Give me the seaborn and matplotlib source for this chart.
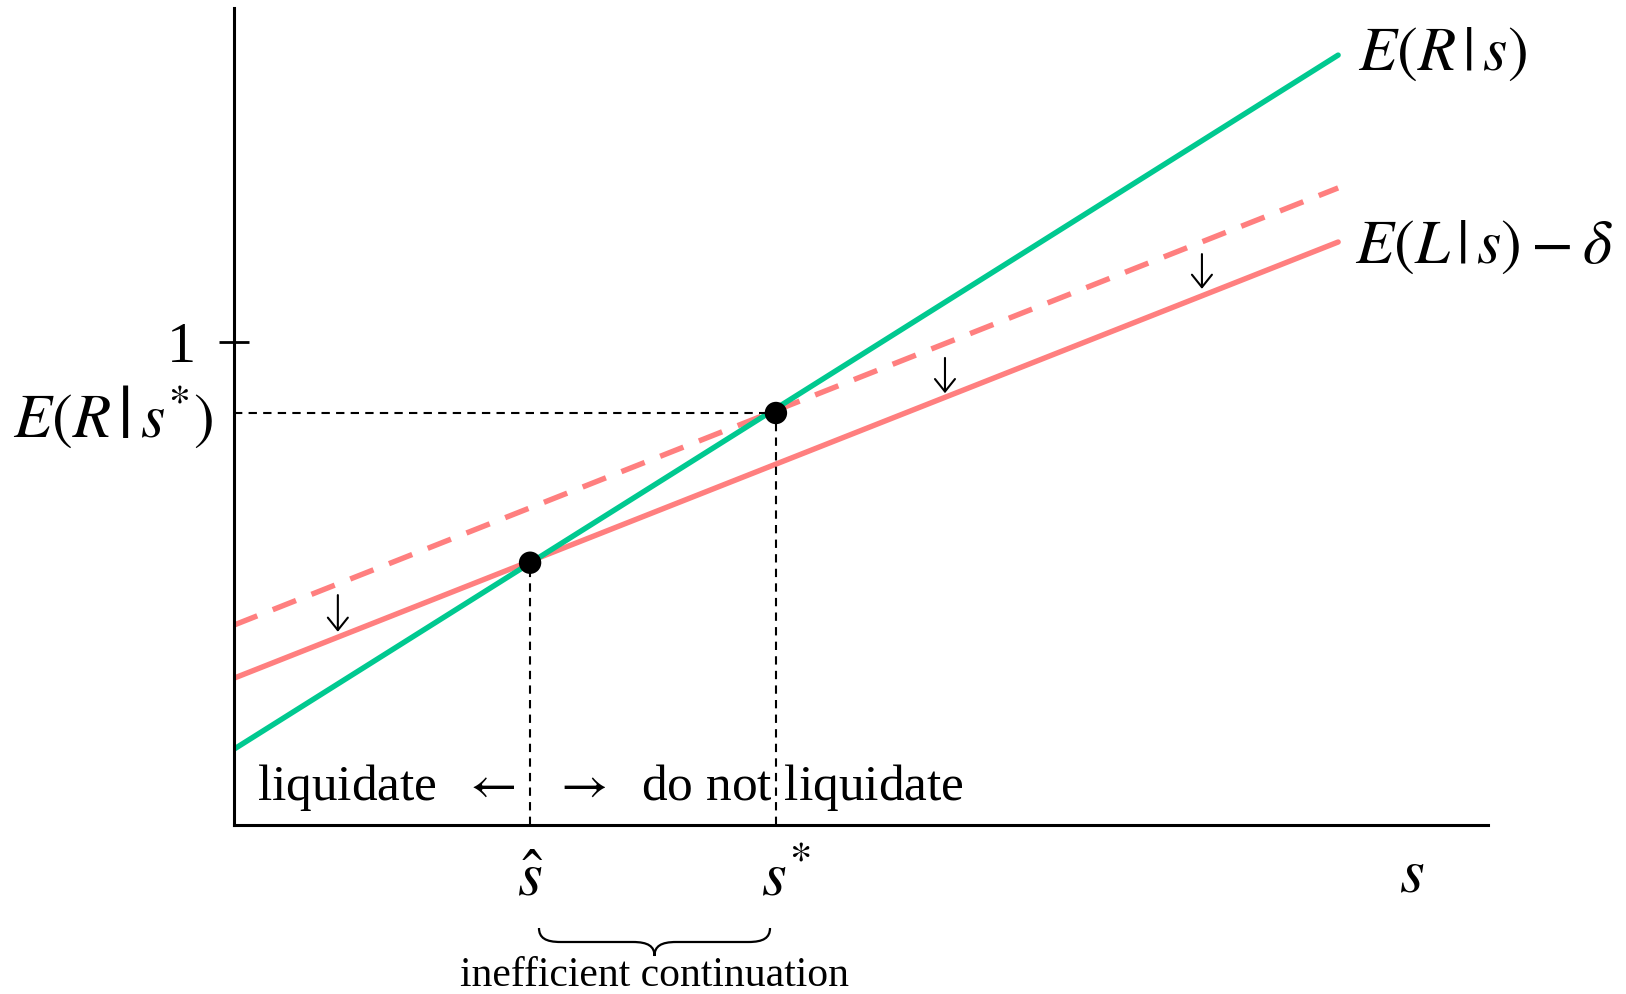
import matplotlib
matplotlib.use("Agg")
import matplotlib.pyplot as plt
import seaborn as sns
from matplotlib.path import Path
from matplotlib.patches import PathPatch

# Signal range and the value of each schedule at its two ends
s_ends = [0.0, 2.286]
exp_return = [0.157, 1.594]           # E(R|s)
exp_liq = [0.414, 1.319]              # E(L|s)
exp_liq_minus_delta = [0.304, 1.207]  # E(L|s) - delta

# Crossing points of E(R|s) with the two liquidation schedules
s_hat = 0.613
s_star = 1.122
er_at_s_hat = 0.543
er_at_s_star = 0.853

# Downward shift markers from E(L|s) to E(L|s) - delta
shift_s = [0.215, 1.472, 2.004]
shift_from = [0.476, 0.967, 1.182]
shift_to = [0.400, 0.894, 1.110]

y_ticks = [1]
y_tick_labels = ["1"]

GREEN = "#00C990"
SALMON = "#FF7F7F"

sns.set_theme(style="white")
plt.rcParams["font.family"] = ["Liberation Serif", "DejaVu Serif"]
plt.rcParams["mathtext.fontset"] = "stix"
plt.rcParams["lines.scale_dashes"] = False
plt.rcParams["text.color"] = "black"

W, H = 1626, 994
fig = plt.figure(figsize=(W / 100, H / 100), dpi=100)
x0_px, x1_px, y0_px, y1_px = 234, 1488, 825, 8
ax = fig.add_axes([x0_px / W, 1 - y0_px / H, (x1_px - x0_px) / W, (y0_px - y1_px) / H])
unit = 483.0  # pixels per data unit on both axes
ax.set_xlim(0, (x1_px - x0_px) / unit)
ax.set_ylim(0, (y0_px - y1_px) / unit)


def at(xp, yp):
    """Figure pixel position -> data coordinates."""
    return (xp - x0_px) / unit, (y0_px - yp) / unit


# Schedules
sns.lineplot(x=s_ends, y=exp_liq, color=SALMON, lw=3.9, ax=ax,
             linestyle=(0, (18, 12)), estimator=None, sort=False)
sns.lineplot(x=s_ends, y=exp_liq_minus_delta, color=SALMON, lw=3.9, ax=ax,
             estimator=None, sort=False)
sns.lineplot(x=s_ends, y=exp_return, color=GREEN, lw=3.9, ax=ax,
             estimator=None, sort=False)

# Guide lines to the thresholds
dash = (0, (6, 4.5))
ax.plot([0, s_star], [er_at_s_star, er_at_s_star], color="black", lw=1.5, linestyle=dash)
ax.plot([s_star, s_star], [0, er_at_s_star], color="black", lw=1.5, linestyle=dash)
ax.plot([s_hat, s_hat], [0, er_at_s_hat], color="black", lw=1.5, linestyle=dash)

# Threshold points
sns.scatterplot(x=[s_hat, s_star], y=[er_at_s_hat, er_at_s_star], color="black",
                s=260, edgecolor="none", zorder=5, ax=ax)

# Shift markers
for xs, ya, yb in zip(shift_s, shift_from, shift_to):
    ax.annotate("", xy=(xs, yb), xytext=(xs, ya),
                arrowprops=dict(arrowstyle="->,head_length=0.5,head_width=0.4",
                                mutation_scale=18, lw=1.5, color="black",
                                shrinkA=0, shrinkB=0))

# Axes
for side in ("top", "right"):
    ax.spines[side].set_visible(False)
for side in ("left", "bottom"):
    ax.spines[side].set_linewidth(2.2)
    ax.spines[side].set_color("black")
ax.set_xticks([])
ax.set_yticks(y_ticks, y_tick_labels)
ax.tick_params(axis="y", direction="inout", length=21, width=2.0, color="black",
               pad=17, labelsize=42, labelcolor="black", left=True)

# Curve labels
ax.text(*at(1358, 70), r"$E(R\,|\,s)$", fontsize=45, ha="left", va="baseline", clip_on=False)
ax.text(*at(1355, 263), r"$E(L\,|\,s)-\delta$", fontsize=45, ha="left", va="baseline", clip_on=False)
ax.text(*at(213, 437), r"$E(R\,\left|\,s^{*}\right.)$", fontsize=45, ha="right", va="baseline", clip_on=False)

# Axis labels
ax.text(s_hat, at(0, 895)[1], r"$\hat{s}$", fontsize=46, ha="center", va="baseline", clip_on=False)
ax.text(at(761, 0)[0], at(0, 895)[1], r"$s^{*}$", fontsize=46, ha="left", va="baseline", clip_on=False)
ax.text(*at(1412, 891), r"$s$", fontsize=46, ha="center", va="baseline", clip_on=False)

# Region labels
ax.text(*at(257, 800), r"liquidate  $\leftarrow$", fontsize=37, ha="left", va="baseline", clip_on=False)
ax.text(*at(553, 800), r"$\rightarrow$  do not liquidate", fontsize=37, ha="left", va="baseline", clip_on=False)


def brace(xa, xb, y_top, y_flat, y_tip, r):
    xm = (xa + xb) / 2
    verts = [
        (xa, y_top),
        (xa, y_flat + 0.3 * (y_top - y_flat)), (xa + 0.3 * r, y_flat), (xa + r, y_flat),
        (xm - r, y_flat),
        (xm - 0.3 * r, y_flat), (xm, y_flat - 0.3 * (y_flat - y_tip)), (xm, y_tip),
        (xm, y_flat - 0.3 * (y_flat - y_tip)), (xm + 0.3 * r, y_flat), (xm + r, y_flat),
        (xb - r, y_flat),
        (xb - 0.3 * r, y_flat), (xb, y_flat + 0.3 * (y_top - y_flat)), (xb, y_top),
    ]
    codes = [Path.MOVETO,
             Path.CURVE4, Path.CURVE4, Path.CURVE4,
             Path.LINETO,
             Path.CURVE4, Path.CURVE4, Path.CURVE4,
             Path.CURVE4, Path.CURVE4, Path.CURVE4,
             Path.LINETO,
             Path.CURVE4, Path.CURVE4, Path.CURVE4]
    return Path(verts, codes)


bx0 = at(539, 0)[0]
bx1 = at(770, 0)[0]
patch = PathPatch(brace(bx0, bx1, at(0, 928)[1], at(0, 942)[1], at(0, 956)[1], 0.045),
                  facecolor="none", edgecolor="black", lw=1.6, clip_on=False)
ax.add_patch(patch)
ax.text((bx0 + bx1) / 2, at(0, 986)[1], "inefficient continuation", fontsize=30,
        ha="center", va="baseline", clip_on=False)

fig.savefig("out.png", dpi=100, facecolor="white")
